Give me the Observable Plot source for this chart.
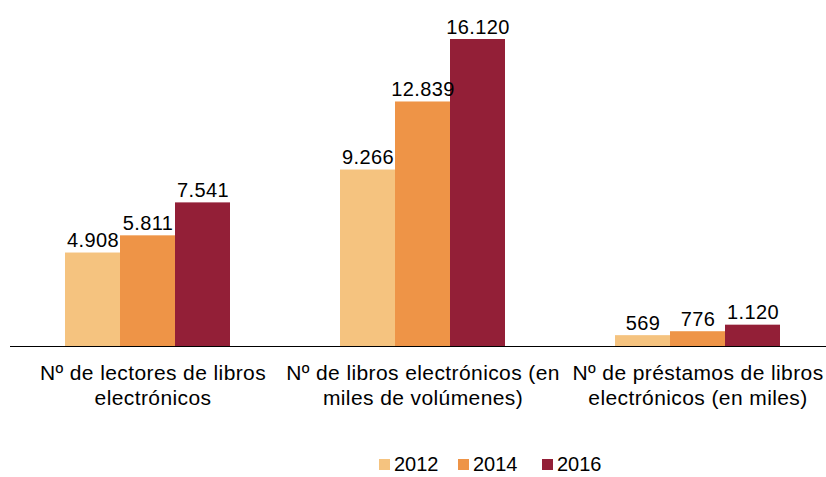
<!DOCTYPE html>
<html><head><meta charset="utf-8">
<script src="https://cdn.jsdelivr.net/npm/d3@7"></script>
<script src="https://cdn.jsdelivr.net/npm/@observablehq/plot@0.6"></script>
<style>
body{margin:0;background:#fff;font-family:"Liberation Sans",Arial,sans-serif;overflow:hidden;}
#chart svg{display:block;}
#chart svg text{letter-spacing:0.4px;}
#legend{position:relative;height:37px;font-size:20px;color:#000;}
#legend .item{position:absolute;top:13px;display:flex;align-items:center;line-height:normal;}
#legend .sw{width:11px;height:11px;margin-right:4px;}
</style></head><body>
<div id="chart"></div><div id="legend"></div>
<script>
const categories = ["Nº de lectores de libros\nelectrónicos", "Nº de libros electrónicos (en\nmiles de volúmenes)", "Nº de préstamos de libros\nelectrónicos (en miles)"];
const years = ["2012", "2014", "2016"];
const values2012 = [4908, 9266, 569];
const values2014 = [5811, 12839, 776];
const values2016 = [7541, 16120, 1120];
const colors = ["#F5C37F", "#EE9447", "#931F37"];

const series = [values2012, values2014, values2016];
const data = categories.flatMap((c, i) => years.map((y, j) => ({category: c, year: y, value: series[j][i]})));
const fmtEs = v => String(v).replace(/\B(?=(\d{3})+(?!\d))/g, ".");
const labelShift = [5, 0, 0];

const chart = Plot.plot({
  width: 826,
  height: 440,
  marginLeft: 10,
  marginRight: -9,
  marginTop: 39,
  marginBottom: 94,
  style: {fontFamily: '"Liberation Sans", Arial, sans-serif', fontSize: "20px", color: "#000", background: "#fff"},
  fx: {domain: categories, paddingInner: 0.4, paddingOuter: 0.2, axis: null},
  x: {domain: years, padding: 0, axis: null},
  y: {domain: [0, d3.max(data, d => d.value)], axis: null},
  color: {domain: years, range: colors},
  marks: [
    Plot.barY(data, {fx: "category", x: "year", y: "value", fill: "year"}),
    Plot.ruleY([0], {stroke: "#000", strokeWidth: 1, insetLeft: -55, insetRight: -55}),
    Plot.text(data, {fx: "category", x: "year", y: "value", text: d => fmtEs(d.value), lineAnchor: "bottom", dy: -6, fill: "#000", fontSize: 20}),
    ...categories.map((c, i) => Plot.text([c], {fx: d => d, text: d => d, frameAnchor: "bottom", lineAnchor: "top", dy: 16, dx: labelShift[i], lineHeight: 1.19, fill: "#000", fontSize: 21}))
  ]
});
document.getElementById("chart").append(chart);

const legend = document.getElementById("legend");
const legendX = [379, 458, 542];
years.forEach((y, i) => {
  const item = document.createElement("div");
  item.className = "item";
  item.style.left = legendX[i] + "px";
  item.innerHTML = `<span class="sw" style="background:${colors[i]}"></span><span>${y}</span>`;
  legend.append(item);
});
</script>
</body></html>
